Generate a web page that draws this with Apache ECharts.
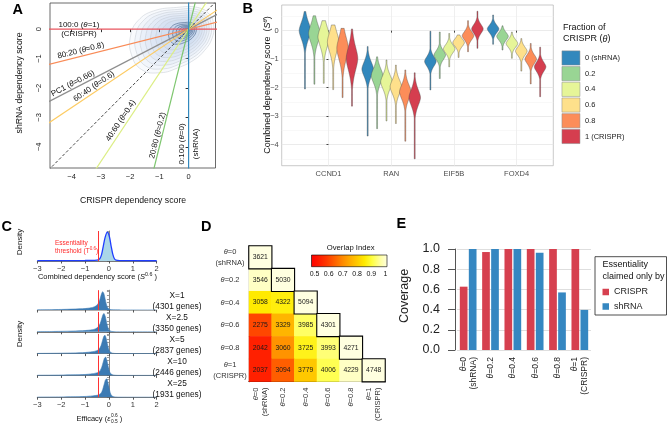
<!DOCTYPE html>
<html><head><meta charset="utf-8">
<script src="https://cdn.jsdelivr.net/npm/echarts@6.0.0/dist/echarts.min.js"></script>
<style>html,body{margin:0;padding:0;background:#fff;}#chart{width:669px;height:423px;}</style>
</head><body><div id="chart"></div>
<script>
const FONT = '"Liberation Sans", Arial, Helvetica, sans-serif';

// ---------------- Panel A data ----------------
const aThetas = [1, 0.8, 0.66, 0.6, 0.5, 0.4, 0.2, 0];
const aLineText = ['100:0 (θ=1)\n(CRISPR)', '80:20 (θ=0.8)', 'PC1 (θ=0.66)', '60:40 (θ=0.6)', '', '40:60 (θ=0.4)', '20:80 (θ=0.2)', '0:100 (θ=0)\n(shRNA)'];
const aLineColors = ['#E9545E', '#F98B57', '#8E8E8E', '#FDCB62', '#333333', '#DCEE85', '#7DC66E', '#3288BD'];
const aTicks = [-4, -3, -2, -1, 0];
const contourCenter = [-0.03, -0.03];
const contourOutline = [[0.86,0.1],[0.72,0.5],[0.3,0.74],[-0.4,0.74],[-1.2,0.62],[-1.72,0.3],[-1.98,-0.2],[-1.96,-0.85],[-1.6,-1.38],[-0.95,-1.48],[-0.38,-1.32],[0.18,-1.05],[0.55,-0.72],[0.8,-0.32]];
const contourScales = [1, 0.91, 0.82, 0.73, 0.64, 0.55, 0.46, 0.33, 0.26, 0.2, 0.15, 0.1, 0.06, 0.03];
const contourKinds  = [0, 0, 0, 0, 0, 0, 0, 1, 1, 1, 1, 1, 1, 1];

// ---------------- Panel B data ----------------
const genes = ['CCND1', 'RAN', 'EIF5B', 'FOXD4'];
const fractionLabels = ['0 (shRNA)', '0.2', '0.4', '0.6', '0.8', '1 (CRISPR)'];
const fractionColors = ['#3288BD', '#99D594', '#E6F598', '#FEE08B', '#FC8D59', '#D53E4F'];
const violinPeak = [
  [0.0, -0.1, -0.22, -0.4, -0.62, -0.98],
  [-1.35, -1.58, -1.8, -1.97, -2.15, -2.35],
  [-1.08, -0.86, -0.64, -0.42, -0.18, 0.06],
  [0.06, -0.2, -0.45, -0.72, -1.0, -1.27]];
const violinSd = [
  [0.3, 0.32, 0.34, 0.36, 0.4, 0.42],
  [0.26, 0.26, 0.25, 0.25, 0.26, 0.28],
  [0.17, 0.16, 0.15, 0.14, 0.15, 0.16],
  [0.14, 0.14, 0.14, 0.15, 0.16, 0.17]];
const violinTop = [
  [0.67, 0.52, 0.35, 0.2, 0.08, 0.06],
  [-0.56, -0.92, -1.03, -1.21, -1.38, -1.48],
  [-0.02, -0.05, -0.1, -0.15, 0.35, 0.68],
  [0.55, 0.17, -0.05, -0.28, -0.45, -0.58]];
const violinBot = [
  [-2.05, -1.88, -1.85, -2.07, -2.35, -2.65],
  [-3.7, -3.44, -3.17, -3.26, -3.88, -4.5],
  [-2.08, -1.68, -1.27, -0.94, -0.74, -0.62],
  [-0.48, -0.68, -0.97, -1.42, -1.87, -2.32]];
const bTicks = [-4, -3, -2, -1, 0];

// ---------------- Panel C data ----------------
const cThreshold = -0.45;
const cTopDensity = [[-3,0.012],[-2,0.014],[-1,0.018],[-0.6,0.025],[-0.45,0.04],[-0.38,0.08],[-0.31,0.22],[-0.24,0.5],[-0.16,0.82],[-0.07,1.0],[0.02,0.84],[0.09,0.52],[0.16,0.24],[0.23,0.08],[0.3,0.03],[0.45,0.015],[1,0.01],[2,0.008]];
const ridgeX1  = [[-3,0.01],[-2.5,0.02],[-2,0.03],[-1.5,0.05],[-1,0.08],[-0.75,0.12],[-0.6,0.18],[-0.5,0.27],[-0.42,0.42],[-0.36,0.65],[-0.31,0.88],[-0.26,1.0],[-0.21,0.88],[-0.16,0.6],[-0.11,0.32],[-0.05,0.12],[0.05,0.03],[0.2,0.008],[0.5,0.002],[2,0]];
const ridgeX2  = [[-3,0.01],[-2.5,0.015],[-2,0.025],[-1.5,0.04],[-1,0.07],[-0.7,0.11],[-0.55,0.17],[-0.45,0.27],[-0.37,0.44],[-0.31,0.68],[-0.26,0.9],[-0.21,1.0],[-0.16,0.86],[-0.11,0.58],[-0.06,0.3],[0,0.1],[0.1,0.025],[0.25,0.006],[0.5,0.002],[2,0]];
const ridgeX5  = [[-3,0.01],[-2.5,0.015],[-2,0.022],[-1.5,0.035],[-1,0.06],[-0.7,0.1],[-0.5,0.16],[-0.4,0.26],[-0.33,0.44],[-0.27,0.7],[-0.22,0.92],[-0.17,1.0],[-0.12,0.85],[-0.07,0.55],[-0.02,0.28],[0.04,0.1],[0.14,0.025],[0.3,0.005],[0.6,0.001],[2,0]];
const ridgeX10 = [[-3,0.008],[-2.5,0.012],[-2,0.02],[-1.5,0.03],[-1,0.05],[-0.7,0.09],[-0.48,0.15],[-0.37,0.26],[-0.3,0.45],[-0.24,0.72],[-0.19,0.93],[-0.14,1.0],[-0.09,0.84],[-0.04,0.54],[0.01,0.27],[0.07,0.1],[0.17,0.025],[0.33,0.005],[0.6,0.001],[2,0]];
const ridgeX25 = [[-3,0.006],[-2.5,0.01],[-2,0.015],[-1.5,0.025],[-1,0.04],[-0.7,0.07],[-0.45,0.12],[-0.33,0.22],[-0.26,0.42],[-0.2,0.7],[-0.15,0.93],[-0.1,1.0],[-0.05,0.84],[0,0.54],[0.05,0.26],[0.11,0.09],[0.2,0.025],[0.35,0.005],[0.6,0.001],[2,0]];
const ridgeLabels = ['X=1\n(4301 genes)', 'X=2.5\n(3350 genes)', 'X=5\n(2837 genes)', 'X=10\n(2446 genes)', 'X=25\n(1931 genes)'];

// ---------------- Panel D data ----------------
const dLabels = ['θ=0\n(shRNA)', 'θ=0.2', 'θ=0.4', 'θ=0.6', 'θ=0.8', 'θ=1\n(CRISPR)'];
const dCounts = [
  [3621],
  [3546, 5030],
  [3058, 4322, 5094],
  [2275, 3329, 3985, 4301],
  [2042, 3060, 3725, 3993, 4271],
  [2037, 3094, 3779, 4006, 4229, 4748]];
const dIndex = [
  [1],
  [0.98, 1],
  [0.85, 0.86, 1],
  [0.62, 0.77, 0.92, 1],
  [0.56, 0.72, 0.87, 0.93, 1],
  [0.56, 0.65, 0.8, 0.91, 0.98, 1]];
const dColors = ['#FF0000','#FF1A00','#FF3800','#FF5E00','#FF8500','#FFA800','#FFC800','#FFEA00','#FFFF40','#FFFF9A','#FFFFE0'];
const dScaleTicks = [0.5, 0.6, 0.7, 0.8, 0.9, 1];

// ---------------- Panel E data ----------------
const eLabels = ['θ=0\n(shRNA)', 'θ=0.2', 'θ=0.4', 'θ=0.6', 'θ=0.8', 'θ=1\n(CRISPR)'];
const eCrispr = [0.627, 0.97, 1, 1, 1, 1];
const eShrna  = [1, 1, 1, 0.962, 0.57, 0.397];

// ====================================================
const chart = echarts.init(document.getElementById('chart'));
const th = s => s.replace(/θ/g, '{i|θ}');
const minus = v => (v < 0 ? '\u2212' + (-v) : '' + v);

function contourRender(params, api) {
  const s = api.value(0), kind = api.value(1);
  const pts = contourOutline.map(p => api.coord([
    contourCenter[0] + (p[0] - contourCenter[0]) * s,
    contourCenter[1] + (p[1] - contourCenter[1]) * s]));
  return {
    type: 'polygon', shape: { points: pts, smooth: 0.45 },
    style: kind === 0
      ? { fill: 'rgba(120,165,210,0.055)', stroke: '#c3c9d1', lineWidth: 0.5 }
      : { fill: 'rgba(70,120,180,0.08)', stroke: '#3a5880', lineWidth: 0.55 }
  };
}

function violinRender(k) {
  return function (params, api) {
    const g = api.value(0), peak = api.value(1), sd = api.value(2), top = api.value(3), bot = api.value(4);
    const cx = api.coord([g + (k - 2.5) * 0.15, peak])[0];
    const N = 90, L = [], R = [];
    for (let i = 0; i <= N; i++) {
      const v = bot + (top - bot) * i / N;
      const z = Math.abs((v - peak) / sd);
      const w = Math.max(0.45, 5.8 * Math.exp(-0.5 * Math.pow(z, 1.7)));
      const y = api.coord([g, v])[1];
      L.push([cx - w, y]); R.push([cx + w, y]);
    }
    return { type: 'polygon', shape: { points: L.concat(R.reverse()) },
      style: { fill: api.visual('color'), stroke: '#4a4a4a', lineWidth: 0.4 } };
  };
}

const grids = [
  { left: 50, top: 3, width: 165.5, height: 165, show: true, borderColor: '#444', borderWidth: 0.8 },
  { left: 281.7, top: 5, width: 271.6, height: 160.7, show: true, borderColor: '#b3b3b3', borderWidth: 0.7 },
  { left: 37.3, top: 231, width: 119.4, height: 30 }
];
for (let i = 0; i < 5; i++) grids.push({ left: 37.3, top: 290.2 + 21.8 * i, height: 19.8, width: 119.4 });
grids.push({ left: 249, top: 246, width: 136, height: 135.6 });
grids.push({ left: 457, top: 249, width: 134, height: 101 });
grids.forEach(g => { g.outerBoundsMode = 'none'; g.containLabel = false; });

const xAxes = [], yAxes = [];
// A
xAxes.push({ type: 'value', gridIndex: 0, min: -4.74, max: 0.92, splitLine: { show: false },
  axisLine: { show: false }, axisTick: { show: true, length: 3, customValues: aTicks, lineStyle: { color: '#333' } },
  axisLabel: { customValues: aTicks, formatter: minus, fontSize: 7.5, color: '#222', margin: 5, fontFamily: FONT } });
yAxes.push({ type: 'value', gridIndex: 0, min: -4.72, max: 0.89, splitLine: { show: false },
  axisLine: { show: false }, axisTick: { show: true, length: 3, customValues: aTicks, lineStyle: { color: '#333' } },
  axisLabel: { customValues: aTicks, formatter: minus, fontSize: 7.5, color: '#222', margin: 7, rotate: 90, fontFamily: FONT } });
// B
xAxes.push({ type: 'value', gridIndex: 1, min: -0.746, max: 3.585,
  splitLine: { show: true, lineStyle: { color: '#ebebeb', width: 0.8 } },
  axisLine: { show: false }, axisTick: { show: true, length: 2, customValues: [0, 1, 2, 3], lineStyle: { color: '#444' } },
  axisLabel: { customValues: [0, 1, 2, 3], formatter: v => genes[v], fontSize: 7.5, color: '#4d4d4d', margin: 4, fontFamily: FONT } });
yAxes.push({ type: 'value', gridIndex: 1, min: -4.74, max: 0.9,
  splitLine: { show: true, lineStyle: { color: '#e6e6e6', width: 0.8 } },
  minorTick: { show: false, splitNumber: 2 }, minorSplitLine: { show: true, lineStyle: { color: '#f4f4f4', width: 0.6 } },
  axisLine: { show: false }, axisTick: { show: true, length: 2, customValues: bTicks, lineStyle: { color: '#444' } },
  axisLabel: { customValues: bTicks, formatter: minus, fontSize: 7.5, color: '#4d4d4d', margin: 3, fontFamily: FONT } });
// C (top + 5 ridges)
for (let i = 0; i < 6; i++) {
  const showLab = (i === 0 || i === 5);
  xAxes.push({ type: 'value', gridIndex: 2 + i, min: -3, max: 2, interval: 1, splitLine: { show: false },
    axisLine: { show: true, lineStyle: { color: i === 1 ? '#999' : '#555', width: 0.8 } },
    axisTick: { show: true, length: 2.5, lineStyle: { color: '#555' } },
    axisLabel: { show: showLab, formatter: minus, fontSize: 7.5, color: '#333', margin: 3.5, fontFamily: FONT } });
  yAxes.push({ type: 'value', gridIndex: 2 + i, min: 0, max: i === 0 ? 1.04 : 1.08, splitNumber: 6, splitLine: { show: false },
    axisLine: { show: true, lineStyle: { color: '#555', width: 0.7 } },
    axisTick: { show: true, length: 2, lineStyle: { color: '#555', width: 0.6 } }, axisLabel: { show: false } });
}
// D
const dRich = { i: { fontStyle: 'italic', fontSize: 7.5, fontFamily: FONT, color: '#333' } };
xAxes.push({ type: 'category', gridIndex: 8, data: dLabels,
  axisLine: { show: true, lineStyle: { color: '#000', width: 1.2 } }, axisTick: { show: false }, splitLine: { show: false },
  axisLabel: { rotate: 90, formatter: th, rich: dRich, fontSize: 7.5, lineHeight: 9, color: '#333', margin: 6, fontFamily: FONT, interval: 0 } });
yAxes.push({ type: 'category', gridIndex: 8, data: dLabels, inverse: true,
  axisLine: { show: true, lineStyle: { color: '#000', width: 1.2 } }, axisTick: { show: false }, splitLine: { show: false },
  axisLabel: { formatter: th, rich: dRich, align: 'center', fontSize: 7.5, lineHeight: 11, color: '#333', margin: 19, fontFamily: FONT, interval: 0 } });
// E
const eRich = { i: { fontStyle: 'italic', fontSize: 8.5, fontFamily: FONT, color: '#222' } };
xAxes.push({ type: 'category', gridIndex: 9, data: eLabels,
  axisLine: { show: false }, axisTick: { show: false }, splitLine: { show: false },
  axisLabel: { rotate: 90, formatter: th, rich: eRich, fontSize: 8.5, lineHeight: 10, color: '#222', margin: 7, fontFamily: FONT, interval: 0 } });
yAxes.push({ type: 'value', gridIndex: 9, min: 0, max: 1, interval: 0.2, offset: 2,
  splitLine: { show: true, lineStyle: { color: '#dedede', width: 1 } },
  axisLine: { show: true, lineStyle: { color: '#555', width: 1 } },
  axisTick: { show: true, length: 7, lineStyle: { color: '#555', width: 1 } },
  axisLabel: { formatter: v => v.toFixed(1), fontSize: 12.5, color: '#222', margin: 15, fontFamily: FONT } });

const series = [];
series.push({ type: 'custom', xAxisIndex: 0, yAxisIndex: 0, clip: true, silent: true, z: 1,
  renderItem: contourRender, data: contourScales.map((s, i) => [s, contourKinds[i]]) });
aThetas.forEach((t, i) => {
  const L = 12;
  series.push({ type: 'line', xAxisIndex: 0, yAxisIndex: 0, showSymbol: false, silent: true, clip: true, z: 3,
    data: [[-L * t, -L * (1 - t)], [L * t, L * (1 - t)]],
    lineStyle: { color: aLineColors[i], width: i === 4 ? 0.9 : 1.2, type: i === 4 ? [3, 2] : 'solid' } });
});
fractionLabels.forEach((name, k) => {
  series.push({ type: 'custom', name, xAxisIndex: 1, yAxisIndex: 1, silent: true, z: 3,
    itemStyle: { color: fractionColors[k] }, renderItem: violinRender(k),
    data: genes.map((g, gi) => [gi, violinPeak[gi][k], violinSd[gi][k], violinTop[gi][k], violinBot[gi][k]]) });
});
const redLine = { silent: true, symbol: ['none', 'none'], label: { show: false },
  lineStyle: { color: '#FF3333', width: 1, type: 'solid' }, data: [{ xAxis: cThreshold }] };
series.push({ type: 'line', xAxisIndex: 2, yAxisIndex: 2, data: cTopDensity, smooth: 0.3, showSymbol: false, silent: true,
  lineStyle: { color: '#1f3dff', width: 1.3 }, areaStyle: { color: '#aad6e8', opacity: 1 }, markLine: redLine, z: 3 });
[ridgeX1, ridgeX2, ridgeX5, ridgeX10, ridgeX25].forEach((d, i) => {
  series.push({ type: 'line', xAxisIndex: 3 + i, yAxisIndex: 3 + i, data: d, smooth: 0.25, showSymbol: false, silent: true,
    lineStyle: { color: '#3C7BB4', width: 0.6 }, areaStyle: { color: '#3C7BB4', opacity: 1 }, markLine: redLine, z: 3 });
});
const dOff = [], dDiag = [];
dCounts.forEach((row, r) => row.forEach((c, col) => {
  (col === r ? dDiag : dOff).push([col, r, dIndex[r][col], c]);
}));
const heatLabel = { show: true, formatter: p => p.data[3], fontSize: 6.8, color: '#1a1a1a', fontFamily: FONT };
const dOffIdx = series.length;
series.push({ type: 'heatmap', xAxisIndex: 8, yAxisIndex: 8, data: dOff, label: heatLabel, silent: true, z: 2 });
series.push({ type: 'heatmap', xAxisIndex: 8, yAxisIndex: 8, data: dDiag, label: heatLabel, silent: true, z: 3,
  itemStyle: { borderColor: '#000', borderWidth: 1.1 } });
series.push({ type: 'bar', name: 'CRISPR', xAxisIndex: 9, yAxisIndex: 9, data: eCrispr, barWidth: 7.7, barGap: '17%',
  itemStyle: { color: '#D6404F' }, silent: true });
series.push({ type: 'bar', name: 'shRNA', xAxisIndex: 9, yAxisIndex: 9, data: eShrna, barWidth: 7.7, barGap: '17%',
  itemStyle: { color: '#3587C1' }, silent: true });

const option = {
  animation: false,
  backgroundColor: '#fff',
  textStyle: { fontFamily: FONT },
  grid: grids, xAxis: xAxes, yAxis: yAxes, series,
  visualMap: [{ type: 'continuous', show: false, min: 0.5, max: 1, dimension: 2, seriesIndex: [dOffIdx, dOffIdx + 1],
    inRange: { color: dColors } }],
  legend: [
    { data: fractionLabels, orient: 'vertical', left: 561.7, top: 50.6, itemWidth: 18, itemHeight: 14.2, itemGap: 1,
      icon: 'rect', padding: 0, itemStyle: { borderColor: '#8a8a8a', borderWidth: 0.5 },
      textStyle: { fontSize: 7.5, color: '#222', fontFamily: FONT }, selectedMode: false },
    { data: ['CRISPR', 'shRNA'], orient: 'vertical', left: 602.5, top: 287.5, itemWidth: 6.5, itemHeight: 6.5, itemGap: 5.5,
      icon: 'rect', padding: 0, textStyle: { fontSize: 9, color: '#222', fontFamily: FONT }, selectedMode: false }
  ]
};
chart.setOption(option);

function T(x, y, text, o) {
  o = o || {};
  const fs = o.fs || 8;
  return { type: 'text', x, y, rotation: o.rot || 0, z: 20, silent: true,
    style: { text, fontSize: fs, fontFamily: FONT, fill: o.color || '#111', fontWeight: o.bold ? 'bold' : 'normal',
      align: o.align || 'center', verticalAlign: o.va || 'middle', lineHeight: o.lh || fs * 1.2,
      rich: o.rich || { i: { fontStyle: 'italic', fontSize: fs, fontFamily: FONT, fill: o.color || '#111' } } } };
}
const G = [];
[['A', 12.5, 9.5], ['B', 242.5, 8.5], ['C', 1.5, 226.5], ['D', 201, 226.5], ['E', 396.5, 224]].forEach(l =>
  G.push(T(l[1], l[2], l[0], { fs: 14.5, bold: true, align: 'left', color: '#000' })));

const aLabelPlace = [
  { i: 0, by: 'x', v: -3.75, off: 0, lh: 9 },
  { i: 1, by: 'x', v: -3.64, off: 5.5 },
  { i: 2, by: 'x', v: -3.88, off: 5 },
  { i: 3, by: 'x', v: -3.14, off: 5 },
  { i: 5, by: 'x', v: -2.15, off: 6 },
  { i: 6, by: 'y', v: -3.65, off: 4.5 },
  { i: 7, by: 'y', v: -3.9, off: 0, lh: 14 }];
aLabelPlace.forEach(s => {
  const t = aThetas[s.i];
  let x, y;
  if (s.by === 'x') { x = s.v; y = s.v * (1 - t) / t; } else { y = s.v; x = s.v * t / (1 - t); }
  const p = chart.convertToPixel({ gridIndex: 0 }, [x, y]);
  const p2 = chart.convertToPixel({ gridIndex: 0 }, [x + t, y + (1 - t)]);
  let dx = p2[0] - p[0], dy = p2[1] - p[1];
  const len = Math.hypot(dx, dy); dx /= len; dy /= len;
  const nx = dy, ny = -dx;
  G.push(T(p[0] + nx * s.off, p[1] + ny * s.off, th(aLineText[s.i]),
    { fs: 8, rot: Math.atan2(-dy, dx), lh: s.lh || 10, color: '#111' }));
});
G.push(T(133, 201, 'CRISPR dependency score', { fs: 8.7 }));
G.push(T(20, 83, 'shRNA dependency score', { fs: 8.7, rot: Math.PI / 2 }));

G.push(T(267.5, 85, '{n|Combined dependency score  (}{e|S}{s|θ}{n|)}', { fs: 9, rot: Math.PI / 2,
  rich: { n: { fontSize: 9, fontFamily: FONT, fill: '#111', lineHeight: 11 },
          e: { fontSize: 9, fontFamily: FONT, fontStyle: 'italic', fill: '#111', lineHeight: 11 },
          s: { fontSize: 6, fontStyle: 'italic', fontFamily: FONT, fill: '#111', lineHeight: 11, verticalAlign: 'top' } } }));
G.push(T(563, 27.3, 'Fraction of', { fs: 9, align: 'left' }));
G.push(T(563, 39, th('CRISPR (θ)'), { fs: 9, align: 'left' }));

G.push(T(20, 242, 'Density', { fs: 8, rot: Math.PI / 2 }));
G.push(T(20, 334, 'Density', { fs: 8, rot: Math.PI / 2 }));
G.push(T(55, 243.3, 'Essentiality', { fs: 6.5, align: 'left', color: '#FF2A2A' }));
G.push(T(55, 250.8, '{n|threshold (T}{s|0.6}{n|)}', { fs: 6.5, align: 'left', color: '#FF2A2A',
  rich: { n: { fontSize: 6.5, fontFamily: FONT, fill: '#FF2A2A', lineHeight: 9 },
          s: { fontSize: 4.6, fontFamily: FONT, fill: '#FF2A2A', lineHeight: 9, verticalAlign: 'top' } } }));
G.push(T(97.5, 277, '{n|Combined dependency score (}{e|S}{s|0.6}{n| )}', { fs: 7.5,
  rich: { n: { fontSize: 7.5, fontFamily: FONT, fill: '#111', lineHeight: 10 },
          e: { fontSize: 7.5, fontFamily: FONT, fontStyle: 'italic', fill: '#111', lineHeight: 10 },
          s: { fontSize: 5.3, fontFamily: FONT, fill: '#111', lineHeight: 10, verticalAlign: 'top' } } }));
ridgeLabels.forEach((t, i) => G.push(T(177, 301.3 + 21.9 * i, t, { fs: 8.3, lh: 10.7 })));
G.push(T(110.5, 418.5, '{n|Efficacy (}{e|ε}', { fs: 7.5, align: 'right',
  rich: { n: { fontSize: 7.5, fontFamily: FONT, fill: '#111' }, e: { fontSize: 7.5, fontStyle: 'italic', fontFamily: FONT, fill: '#111' } } }));
G.push(T(111, 415.5, '0.6', { fs: 4.8, align: 'left' }));
G.push(T(111, 421.3, '0.5', { fs: 4.8, align: 'left' }));
G.push(T(119.8, 418.5, ')', { fs: 7.5, align: 'left' }));

const cbX0 = 311.5, cbW = 75.5, cbTick0 = 314.5, cbTick1 = 385.5;
G.push({ type: 'rect', z: 20, silent: true, shape: { x: cbX0, y: 255, width: cbW, height: 11.7 },
  style: { stroke: '#000', lineWidth: 0.6,
    fill: { type: 'linear', x: 0, y: 0, x2: 1, y2: 0, global: false,
      colorStops: dColors.map((c, i) => ({ offset: i / (dColors.length - 1), color: c })) } } });
dScaleTicks.forEach(v => G.push(T(cbTick0 + (v - 0.5) / 0.5 * (cbTick1 - cbTick0), 274.3, String(v), { fs: 7 })));
G.push(T(350.7, 248.3, 'Overlap Index', { fs: 7.7 }));

G.push(T(405, 296, 'Coverage', { fs: 12.5, rot: Math.PI / 2, color: '#222' }));
G.push({ type: 'rect', z: 19, silent: true, shape: { x: 595, y: 256.7, width: 71.5, height: 58.3 },
  style: { fill: 'none', stroke: '#222', lineWidth: 0.8 } });
G.push(T(602.5, 265, 'Essentiality', { fs: 9, align: 'left' }));
G.push(T(602.5, 276.7, 'claimed only by', { fs: 9, align: 'left' }));

chart.setOption({ graphic: { elements: G } });
</script></body></html>
